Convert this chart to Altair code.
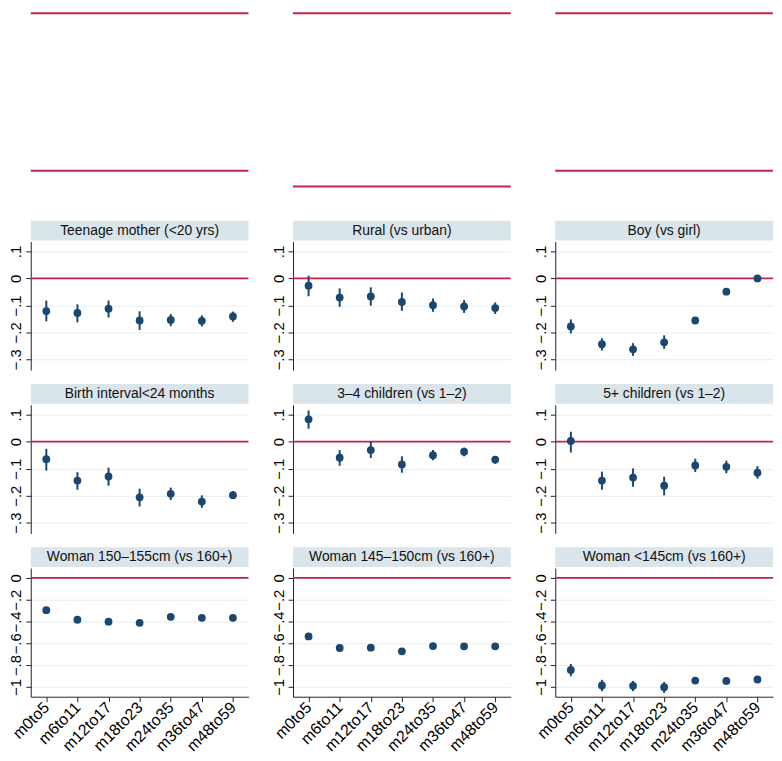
import altair as alt
import pandas as pd

ages = ["m0to5", "m6to11", "m12to17", "m18to23", "m24to35", "m36to47", "m48to59"]

# panel titles (row by row)
titles = [
    "Teenage mother (<20 yrs)", "Rural (vs urban)", "Boy (vs girl)",
    "Birth interval<24 months", "3–4 children (vs 1–2)", "5+ children (vs 1–2)",
    "Woman 150–155cm (vs 160+)", "Woman 145–150cm (vs 160+)", "Woman <145cm (vs 160+)",
]

teen_est = [-0.121, -0.128, -0.112, -0.156, -0.154, -0.157, -0.141]
teen_lo = [-0.159, -0.163, -0.145, -0.191, -0.177, -0.178, -0.161]
teen_hi = [-0.082, -0.096, -0.082, -0.122, -0.132, -0.137, -0.123]

rural_est = [-0.027, -0.071, -0.067, -0.087, -0.099, -0.104, -0.110]
rural_lo = [-0.066, -0.105, -0.101, -0.120, -0.124, -0.128, -0.132]
rural_hi = [0.010, -0.037, -0.033, -0.052, -0.074, -0.080, -0.089]

boy_est = [-0.178, -0.244, -0.263, -0.237, -0.156, -0.049, 0.000]
boy_lo = [-0.204, -0.267, -0.287, -0.261, -0.166, -0.058, -0.009]
boy_hi = [-0.152, -0.222, -0.240, -0.211, -0.146, -0.040, 0.009]

birth_est = [-0.065, -0.144, -0.129, -0.206, -0.193, -0.222, -0.198]
birth_lo = [-0.107, -0.178, -0.163, -0.240, -0.216, -0.245, -0.212]
birth_hi = [-0.026, -0.113, -0.096, -0.174, -0.170, -0.199, -0.183]

ch34_est = [0.083, -0.059, -0.031, -0.084, -0.050, -0.037, -0.066]
ch34_lo = [0.048, -0.089, -0.060, -0.115, -0.069, -0.054, -0.082]
ch34_hi = [0.116, -0.031, 0.001, -0.054, -0.031, -0.022, -0.054]

ch5_est = [0.003, -0.144, -0.133, -0.163, -0.088, -0.093, -0.115]
ch5_lo = [-0.040, -0.178, -0.167, -0.199, -0.112, -0.117, -0.137]
ch5_hi = [0.037, -0.111, -0.099, -0.130, -0.063, -0.070, -0.091]

h150_est = [-0.296, -0.384, -0.402, -0.412, -0.357, -0.366, -0.366]
h150_lo = [-0.316, -0.404, -0.422, -0.432, -0.377, -0.386, -0.386]
h150_hi = [-0.276, -0.364, -0.382, -0.392, -0.337, -0.346, -0.346]

h145_est = [-0.537, -0.643, -0.640, -0.674, -0.625, -0.628, -0.628]
h145_lo = [-0.560, -0.664, -0.661, -0.696, -0.645, -0.648, -0.648]
h145_hi = [-0.514, -0.622, -0.619, -0.652, -0.605, -0.608, -0.608]

hlow_est = [-0.845, -0.987, -0.990, -1.003, -0.942, -0.945, -0.932]
hlow_lo = [-0.903, -1.039, -1.039, -1.055, -0.962, -0.965, -0.952]
hlow_hi = [-0.790, -0.935, -0.945, -0.955, -0.922, -0.925, -0.912]

# cropped upper row: only its red reference lines remain (relative level in panel)
top_levels = [[0.998, 0.186], [0.998, 0.105], [0.998, 0.186]]

ticks_small = [-0.3, -0.2, -0.1, 0, 0.1]
ticks_big = [-1, -0.8, -0.6, -0.4, -0.2, 0]
domain_small = [-0.34, 0.137]
domain_big = [-1.09, 0.09]

NAVY = "#1a476f"
RED = "#c8234a"
STRIP = "#d9e4eb"
GRID = "#e6eef0"
FONT = "Liberation Sans"
W, H = 220, 130

label_expr = ("datum.value == 0 ? '0' : datum.value <= -1 ? '\u22121' : "
              "replace(replace(format(datum.value, '.1f'), '0.', '.'), '-', '\u2212')")


def panel(title, est, lo, hi, ticks, dom, show_x):
    df = pd.DataFrame({"age": ages, "est": est, "lo": lo, "hi": hi})
    yscale = alt.Scale(domain=dom, nice=False, zero=False)
    yaxis = alt.Axis(values=ticks, labelExpr=label_expr, labelAngle=270,
                     labelAlign="center", labelBaseline="bottom", labelPadding=2,
                     tickSize=5, grid=True, title=None, labelFontSize=15,
                     labelFont=FONT, labelColor="#000000")
    if show_x:
        xaxis = alt.Axis(title=None, labelAngle=-45, labelAlign="right",
                         labelBaseline="middle", labelPadding=3, tickSize=5, grid=False,
                         labelFontSize=16, labelFont=FONT, labelColor="#000000")
    else:
        xaxis = None
    xenc = alt.X("age:N", sort=ages,
                 scale=alt.Scale(type="point", padding=0.5, domain=ages), axis=xaxis)

    tdf = pd.DataFrame({"t": [title], "z": [0.0]})
    strip = alt.Chart(tdf).mark_rect(color=STRIP).encode(
        x=alt.value(0), x2=alt.value(W), y=alt.value(-21), y2=alt.value(-1))
    text = alt.Chart(tdf).mark_text(font=FONT, fontSize=14, color="#111111",
                                    baseline="middle", align="center").encode(
        x=alt.value(W / 2), y=alt.value(-11), text="t:N")
    zero = alt.Chart(tdf).mark_rule(color=RED, strokeWidth=1.8).encode(
        y=alt.Y("z:Q", scale=yscale, axis=yaxis))
    bars = alt.Chart(df).mark_rule(color=NAVY, strokeWidth=2).encode(
        x=xenc, y=alt.Y("lo:Q", scale=yscale, axis=yaxis), y2="hi:Q")
    pts = alt.Chart(df).mark_circle(color=NAVY, opacity=1, size=62).encode(
        x=xenc, y=alt.Y("est:Q", scale=yscale, axis=yaxis))
    return alt.layer(strip, text, zero, bars, pts).properties(width=W, height=H)


def top_panel(levels):
    d = pd.DataFrame({"v": levels})
    return alt.Chart(d).mark_rule(color=RED, strokeWidth=2).encode(
        y=alt.Y("v:Q", scale=alt.Scale(domain=[0, 1], nice=False, zero=False), axis=None)
    ).properties(width=W, height=196)


cells = [top_panel(l) for l in top_levels]
cells += [
    panel(titles[0], teen_est, teen_lo, teen_hi, ticks_small, domain_small, False),
    panel(titles[1], rural_est, rural_lo, rural_hi, ticks_small, domain_small, False),
    panel(titles[2], boy_est, boy_lo, boy_hi, ticks_small, domain_small, False),
    panel(titles[3], birth_est, birth_lo, birth_hi, ticks_small, domain_small, False),
    panel(titles[4], ch34_est, ch34_lo, ch34_hi, ticks_small, domain_small, False),
    panel(titles[5], ch5_est, ch5_lo, ch5_hi, ticks_small, domain_small, False),
    panel(titles[6], h150_est, h150_lo, h150_hi, ticks_big, domain_big, True),
    panel(titles[7], h145_est, h145_lo, h145_hi, ticks_big, domain_big, True),
    panel(titles[8], hlow_est, hlow_lo, hlow_hi, ticks_big, domain_big, True),
]

chart = alt.concat(*cells, columns=3, spacing={"row": 35, "column": 45},
                   align="each", bounds="flush").properties(
    padding=0, background="white"
).configure_view(strokeWidth=0, stroke=None).configure_axis(
    labelFont=FONT, labelFontSize=14, labelColor="#000000",
    domainColor="#222222", domainWidth=1, tickColor="#222222", tickWidth=1,
    gridColor=GRID, gridWidth=1,
)

chart.save("out.html", embed_options={"renderer": "svg", "actions": False})
